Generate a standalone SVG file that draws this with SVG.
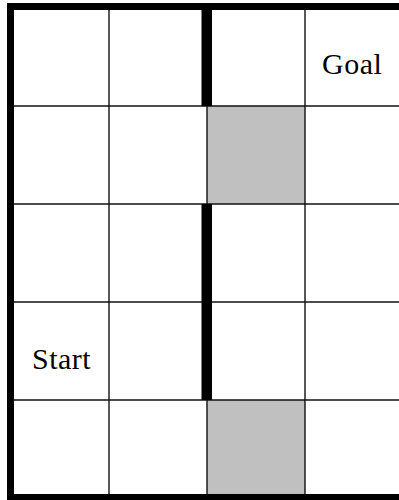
<svg xmlns="http://www.w3.org/2000/svg" width="399" height="500" viewBox="0 0 399 500">
<style>
.grid{stroke:#111;stroke-width:1.4;fill:none}
.wall{fill:#000}
.blocked{fill:#c0c0c0}
.lbl{font-family:"Liberation Serif","Times New Roman",serif;font-size:30px;letter-spacing:0.5px;fill:#000}
</style>
<rect width="399" height="500" fill="#fff"/>
<g id="cells">
<rect id="blocked1" class="blocked" x="207" y="106" width="98" height="98"/>
<rect id="blocked2" class="blocked" x="207" y="400" width="98" height="94"/>
</g>
<g id="gridlines">
<line class="grid" x1="109" y1="3" x2="109" y2="500"/>
<line class="grid" x1="207" y1="3" x2="207" y2="500"/>
<line class="grid" x1="305" y1="3" x2="305" y2="500"/>
<line class="grid" x1="7" y1="106" x2="399" y2="106"/>
<line class="grid" x1="7" y1="204" x2="399" y2="204"/>
<line class="grid" x1="7" y1="302" x2="399" y2="302"/>
<line class="grid" x1="7" y1="400" x2="399" y2="400"/>
</g>
<g id="walls">
<rect class="wall" x="7" y="3" width="392" height="7"/>
<rect class="wall" x="7" y="3" width="7" height="497"/>
<rect class="wall" x="7" y="494" width="392" height="6"/>
<rect class="wall" x="201.5" y="3" width="10.5" height="103"/>
<rect class="wall" x="201.5" y="204" width="10.5" height="196"/>
</g>
<g id="goal"><text class="lbl" x="322" y="74">Goal</text></g>
<g id="start"><text class="lbl" x="32" y="369">Start</text></g>
</svg>
